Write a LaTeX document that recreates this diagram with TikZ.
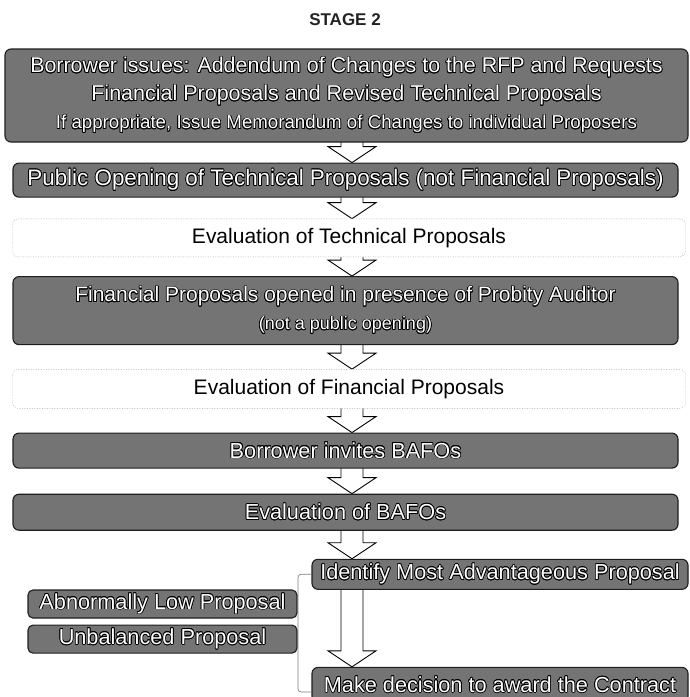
\documentclass[tikz,border=0pt]{standalone}
\usepackage{fontspec}
\setmainfont{Liberation Sans}
\usepackage{xcolor}
\usepackage{tikz}
\usetikzlibrary{positioning,calc,backgrounds}
\usepackage{contour}
\contourlength{0.7pt}
\contournumber{16}
\definecolor{boxfill}{HTML}{747474}
\definecolor{boxline}{HTML}{1E1E1E}
\definecolor{faint}{HTML}{A8A8A8}
\definecolor{title}{HTML}{222222}

% white lettering with a dark rim
\newcommand{\wt}[1]{\contour{black}{#1}}

% hollow block arrow between two stacked nodes
\newcommand{\blockarrow}[2]{%
  \draw[blockarr] ($(axis |- #1.south)+(-11pt,2pt)$)
    -- ($(axis |- #2.north)+(-11pt,16pt)$) -- ($(axis |- #2.north)+(-24pt,16pt)$)
    -- (axis |- #2.north)
    -- ($(axis |- #2.north)+(24pt,16pt)$) -- ($(axis |- #2.north)+(11pt,16pt)$)
    -- ($(axis |- #1.south)+(11pt,2pt)$);}

\begin{document}
\begin{tikzpicture}[
        x=1pt, y=1pt,
        node distance=20pt,
        every node/.style={
            align=center,
            inner sep=2pt
        },
        darkbox/.style={
            rectangle,
            rounded corners=6pt,
            draw=boxline,
            line width=1.1pt,
            fill=boxfill,
            text=white,
            minimum width=665pt,
            font=\fontsize{21.7}{28}\selectfont
        },
        lightbox/.style={
            rectangle,
            rounded corners=6pt,
            draw=faint,
            dash pattern=on 1pt off 1.5pt,
            fill=white,
            text=black,
            minimum width=673pt,
            font=\fontsize{21}{26}\selectfont
        },
        sidebox/.style={
            darkbox,
            rounded corners=5pt,
            minimum width=269pt,
            minimum height=28pt
        },
        blockarr/.style={
            draw=black,
            line width=0.9pt,
            fill=white,
            line join=miter
        },
        bracket/.style={
            draw=gray,
            line width=0.7pt,
            rounded corners=3pt
        }
    ]
        \useasboundingbox (0,0) rectangle (689,-697);
        \coordinate (axis) at (352,0);
        \coordinate (brk) at (298,0);

        \node[font=\fontsize{17}{20}\selectfont\bfseries, text=title] (stage) at (345,-20) {STAGE 2};

        \node[darkbox, minimum width=683pt, minimum height=93pt] (issue) at (346.5,-95.5)
            {\fontsize{21.4}{29}\selectfont\wt{Borrower issues: Addendum of Changes to the RFP and Requests}\\
             \fontsize{21.5}{27}\selectfont\wt{Financial Proposals and Revised Technical Proposals}\\
             \fontsize{18.7}{25}\selectfont\wt{If appropriate, Issue Memorandum of Changes to individual Proposers}};
        \node[darkbox, minimum height=34pt, below=20pt of issue, xshift=-1pt,
              font=\fontsize{22.4}{28}\selectfont] (pubopen)
            {\wt{Public Opening of Technical Proposals (not Financial Proposals)}};
        \node[lightbox, minimum height=38pt, below=21pt of pubopen, xshift=3.5pt] (evaltech)
            {Evaluation of Technical Proposals};
        \node[darkbox, minimum height=68pt, below=19pt of evaltech, xshift=-3.5pt,
              font=\fontsize{21}{28}\selectfont] (finopen)
            {\wt{Financial Proposals opened in presence of Probity Auditor}\\
             \fontsize{18}{26}\selectfont\wt{(not a public opening)}};
        \node[lightbox, minimum height=39pt, below=24pt of finopen, xshift=3.5pt] (evalfin)
            {Evaluation of Financial Proposals};
        \node[darkbox, minimum height=35pt, below=24pt of evalfin, xshift=-3.5pt] (invite)
            {\wt{Borrower invites BAFOs}};
        \node[darkbox, minimum height=36pt, below=25pt of invite] (evalbafo)
            {\wt{Evaluation of BAFOs}};
        \node[darkbox, minimum width=376pt, minimum height=30pt, below=28pt of evalbafo, xshift=154.5pt] (ident)
            {\wt{Identify Most Advantageous Proposal}};
        \node[darkbox, minimum width=376pt, minimum height=35pt, below=77pt of ident] (decide)
            {\wt{Make decision to award the Contract}};

        \node[sidebox] (abnormal) at (162.5,-604) {\wt{Abnormally Low Proposal}};
        \node[sidebox, below=6pt of abnormal] (unbal) {\wt{Unbalanced Proposal}};

        \begin{scope}[on background layer]
            \blockarrow{issue}{pubopen}
            \blockarrow{pubopen}{evaltech}
            \blockarrow{evaltech}{finopen}
            \blockarrow{finopen}{evalfin}
            \blockarrow{evalfin}{invite}
            \blockarrow{invite}{evalbafo}
            \blockarrow{evalbafo}{ident}
            \blockarrow{ident}{decide}
        \end{scope}

        % bracket tying the two checks to the award steps
        \draw[bracket] (ident.west) -| ([yshift=-7pt]brk |- decide.west) -- ([yshift=-7pt]decide.west);
    \end{tikzpicture}
\end{document}
